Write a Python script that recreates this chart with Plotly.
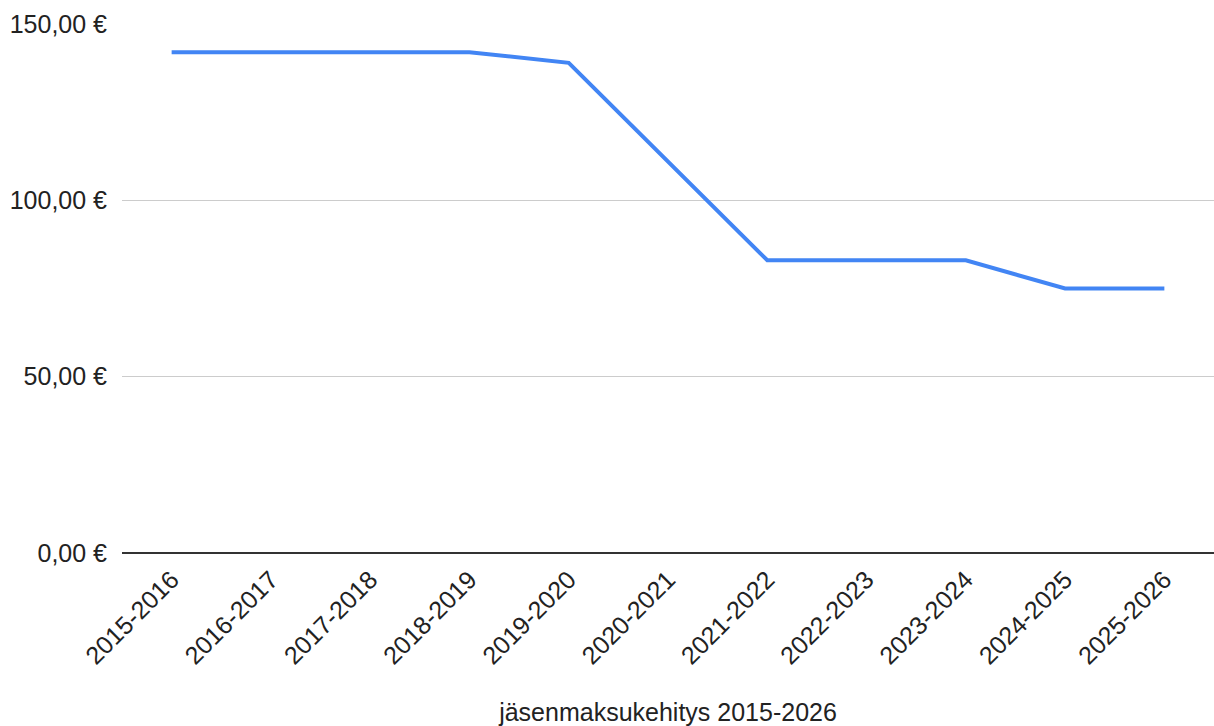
import plotly.graph_objects as go

categories = ["2015-2016", "2016-2017", "2017-2018", "2018-2019", "2019-2020",
              "2020-2021", "2021-2022", "2022-2023", "2023-2024", "2024-2025", "2025-2026"]
fees = [142, 142, 142, 142, 139, 111, 83, 83, 83, 75, 75]
y_ticks = [0, 50, 100, 150]
y_tick_labels = ["0,00 €", "50,00 €", "100,00 €", "150,00 €"]

fig = go.Figure()
fig.add_trace(go.Scatter(
    x=categories, y=fees, mode="lines",
    line=dict(color="#4285F4", width=4),
    showlegend=False, hoverinfo="skip",
))

fig.update_layout(
    width=1214, height=726,
    margin=dict(l=122, r=0, t=24, b=173),
    paper_bgcolor="white", plot_bgcolor="white",
    font=dict(family="Liberation Sans, Arial, sans-serif", size=25, color="#222222"),
    xaxis=dict(
        type="category", range=[-0.5, 10.5], tickangle=-45,
        showgrid=False, ticks="", showline=False, zeroline=False,
        ticklabelstandoff=6,
        title=dict(text="jäsenmaksukehitys 2015-2026", standoff=38,
                   font=dict(size=25, color="#222222")),
        tickfont=dict(size=25, color="#222222"),
    ),
    yaxis=dict(
        range=[0, 150], tickvals=y_ticks, ticktext=y_tick_labels,
        showgrid=True, gridcolor="#cccccc", gridwidth=1,
        zeroline=True, zerolinecolor="#333333", zerolinewidth=2,
        ticks="", ticklabelstandoff=14,
        tickfont=dict(size=25, color="#222222"),
    ),
)
fig.write_html("out.html")
